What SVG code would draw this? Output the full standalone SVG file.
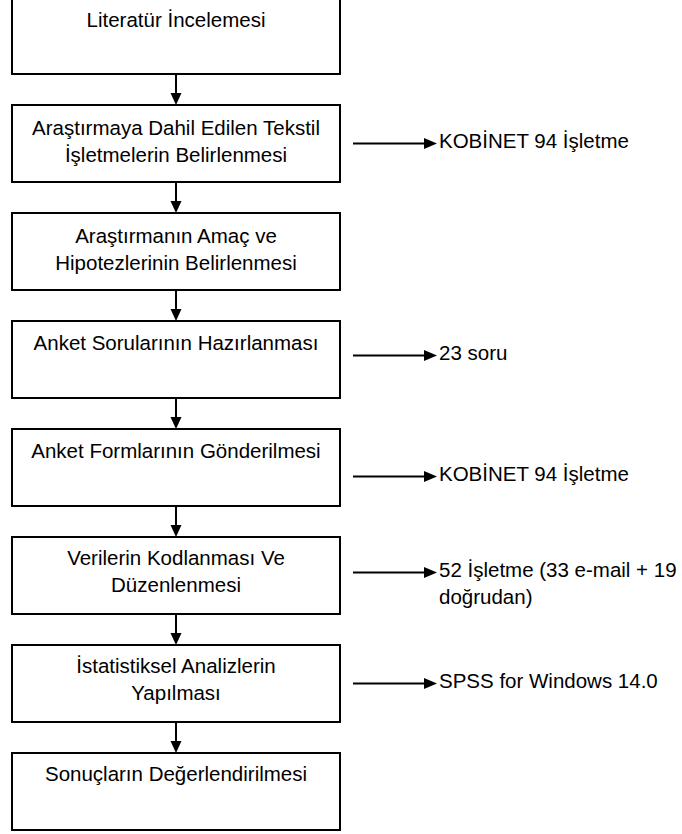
<svg xmlns="http://www.w3.org/2000/svg" width="682" height="834" viewBox="0 0 682 834">
<style>
.box{fill:#fff;stroke:#000;stroke-width:2}
.t{font-family:"Liberation Sans",Arial,sans-serif;font-size:20.5px;fill:#000}
.c{text-anchor:middle}
.ln{stroke:#000;stroke-width:2;fill:none}
.ah{fill:#000}
</style>
<rect width="682" height="834" fill="#fff"/>
<g id="n1"><rect class="box" x="12" y="-3" width="328" height="77"/><text class="t c" x="176" y="27">Literatür İncelemesi</text></g>
<g id="n2"><rect class="box" x="12" y="105" width="328" height="77"/><text class="t c" x="176" y="135">Araştırmaya Dahil Edilen Tekstil</text><text class="t c" x="176" y="162">İşletmelerin Belirlenmesi</text></g>
<g id="n3"><rect class="box" x="12" y="213" width="328" height="77"/><text class="t c" x="176" y="242.5">Araştırmanın Amaç ve</text><text class="t c" x="176" y="269.5">Hipotezlerinin Belirlenmesi</text></g>
<g id="n4"><rect class="box" x="12" y="321" width="328" height="77"/><text class="t c" x="176" y="349.5">Anket Sorularının Hazırlanması</text></g>
<g id="n5"><rect class="box" x="12" y="429" width="328" height="77"/><text class="t c" x="176" y="457.5">Anket Formlarının Gönderilmesi</text></g>
<g id="n6"><rect class="box" x="12" y="537" width="328" height="77"/><text class="t c" x="176" y="565">Verilerin Kodlanması Ve</text><text class="t c" x="176" y="592">Düzenlenmesi</text></g>
<g id="n7"><rect class="box" x="12" y="645" width="328" height="77"/><text class="t c" x="176" y="673">İstatistiksel Analizlerin</text><text class="t c" x="176" y="700">Yapılması</text></g>
<g id="n8"><rect class="box" x="12" y="753" width="328" height="77"/><text class="t c" x="176" y="780.5">Sonuçların Değerlendirilmesi</text></g>
<g id="side-labels">
<text class="t" x="439" y="147.5">KOBİNET 94 İşletme</text>
<text class="t" x="439" y="359.5">23 soru</text>
<text class="t" x="439" y="481">KOBİNET 94 İşletme</text>
<text class="t" x="439" y="577">52 İşletme (33 e-mail + 19</text>
<text class="t" x="439" y="604">doğrudan)</text>
<text class="t" x="439" y="687.5">SPSS for Windows 14.0</text>
</g>
<g id="connectors">
<path class="ln" d="M176 74V94M176 182V202M176 290V310M176 398V418M176 506V526M176 614V634M176 722V742"/>
<polygon class="ah" points="170.5,93 181.5,93 176,105"/>
<polygon class="ah" points="170.5,201 181.5,201 176,213"/>
<polygon class="ah" points="170.5,309 181.5,309 176,321"/>
<polygon class="ah" points="170.5,417 181.5,417 176,429"/>
<polygon class="ah" points="170.5,525 181.5,525 176,537"/>
<polygon class="ah" points="170.5,633 181.5,633 176,645"/>
<polygon class="ah" points="170.5,741 181.5,741 176,753"/>
<path class="ln" d="M353 143.5H426M353 355.5H426M353 476.5H426M353 572.5H426M353 683.5H426"/>
<polygon class="ah" points="424,138 437,143.5 424,149"/>
<polygon class="ah" points="424,350 437,355.5 424,361"/>
<polygon class="ah" points="424,471 437,476.5 424,482"/>
<polygon class="ah" points="424,567 437,572.5 424,578"/>
<polygon class="ah" points="424,678 437,683.5 424,689"/>
</g>
</svg>
